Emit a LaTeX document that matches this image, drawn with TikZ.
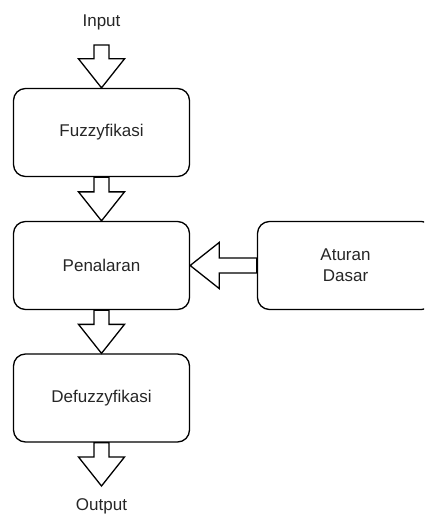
\documentclass[tikz,border=0pt]{standalone}
\usepackage{fontspec}
\setmainfont{Liberation Sans}
\usetikzlibrary{calc}

\tikzset{
  blok/.style={draw,rounded corners=12pt,line width=1.3pt,minimum width=176pt,minimum height=88pt,
    align=center,font=\fontsize{17}{21}\selectfont,text=black!85},
  label/.style={font=\fontsize{17}{21}\selectfont,text=black!85},
  fatline/.style={draw,fill=white,line width=1.3pt,line join=miter}
}

% fat outline arrow from #1 (tail) to #2 (tip)
\newcommand{\fatarrow}[2]{%
  \coordinate (fa-base) at ($(#2)!29pt!(#1)$);
  \draw[fatline] ($(#1)!7.5pt!90:(#2)$) -- ($(fa-base)!7.5pt!90:(#2)$)
    -- ($(fa-base)!23pt!90:(#2)$) -- (#2) -- ($(fa-base)!23pt!-90:(#2)$)
    -- ($(fa-base)!7.5pt!-90:(#2)$) -- ($(#1)!7.5pt!-90:(#2)$) -- cycle;
}

\begin{document}
\begin{tikzpicture}[x=1pt,y=-1pt]
    \useasboundingbox (0,0) rectangle (424,516);
    \clip (0,0) rectangle (424,516);

    \node[label] (inp) at (101.5,22) {Input};
    \node[blok] (fuz) at (101.5,132.5) {Fuzzyfikasi};
    \node[blok] (pen) at (101.5,265.5) {Penalaran};
    \node[blok] (atur) at (345.5,265.5) {Aturan\\Dasar};
    \node[blok] (defuz) at (101.5,398) {Defuzzyfikasi};
    \node[label] (outp) at (101.5,506) {Output};

    \coordinate (in) at (101.5,45);
    \coordinate (out) at (101.5,486);

    \fatarrow{in}{fuz.north}
    \fatarrow{fuz.south}{pen.north}
    \fatarrow{atur.west}{pen.east}
    \fatarrow{pen.south}{defuz.north}
    \fatarrow{defuz.south}{out}
\end{tikzpicture}
\end{document}
